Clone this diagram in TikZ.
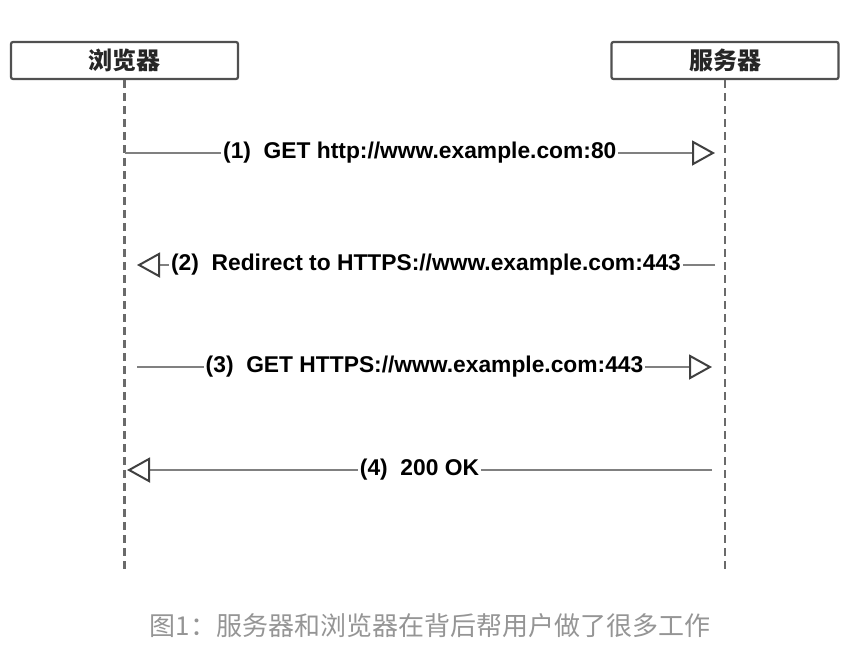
\documentclass[tikz,border=0pt]{standalone}
\usepackage{fontspec}
\setmainfont{Liberation Sans}
\newfontfamily\cjk{Noto Sans CJK SC}
\usetikzlibrary{arrows.meta}
\definecolor{boxline}{HTML}{505050}
\definecolor{msgline}{HTML}{808080}
\definecolor{tipline}{HTML}{404040}
\definecolor{lifec}{HTML}{6A6A6A}
\definecolor{capc}{HTML}{959595}
\tikzset{
  actor/.style={draw=boxline, line width=2.2pt, rounded corners=2pt, fill=white,
    minimum width=227pt, minimum height=37pt, inner sep=0pt, text=black!85,
    font=\cjk\bfseries\fontsize{24}{28}\selectfont},
  lifeline/.style={draw=lifec, line width=2.5pt, dash pattern=on 8pt off 5pt},
  msg/.style={draw=msgline, line width=2.8pt,
    -{Triangle[open, length=23pt, width=25pt, line width=2pt, color=tipline]}},
  msglabel/.style={fill=white, inner xsep=2pt, inner ysep=1pt, text=black,
    font=\bfseries\fontsize{22.8}{26}\selectfont},
  caption/.style={text=capc, font=\cjk\fontsize{26}{30}\selectfont}
}
\begin{document}
\begin{tikzpicture}[x=1pt,y=-1pt]
\useasboundingbox (0,0) rectangle (853,659);
\node[actor] (b) at (124.5,60.5) {浏览器};
\node[actor] (s) at (725,60.5) {服务器};
\coordinate (bend) at (124.5,570);
\coordinate (send) at (725,570);
\draw[lifeline] (b.south) -- (bend);
\draw[lifeline] (s.south) -- (send);
% message 1
\coordinate (m1a) at (124.5,153);
\coordinate (m1b) at (715,153);
\draw[msg] (m1a) -- node[msglabel] {(1)\ \ GET http://www.example.com:80} (m1b);
% message 2
\coordinate (m2a) at (715,265);
\coordinate (m2b) at (137,265);
\draw[msg] (m2a) -- node[msglabel] {(2)\ \ Redirect to HTTPS://www.example.com:443} (m2b);
% message 3
\coordinate (m3a) at (137,367);
\coordinate (m3b) at (712,367);
\draw[msg] (m3a) -- node[msglabel] {(3)\ \ GET HTTPS://www.example.com:443} (m3b);
% message 4
\coordinate (m4a) at (712,470);
\coordinate (m4b) at (127,470);
\draw[msg] (m4a) -- node[msglabel] {(4)\ \ 200 OK} (m4b);
\node[caption] (cap) at (430,626) {图1：服务器和浏览器在背后帮用户做了很多工作};
\end{tikzpicture}
\end{document}
